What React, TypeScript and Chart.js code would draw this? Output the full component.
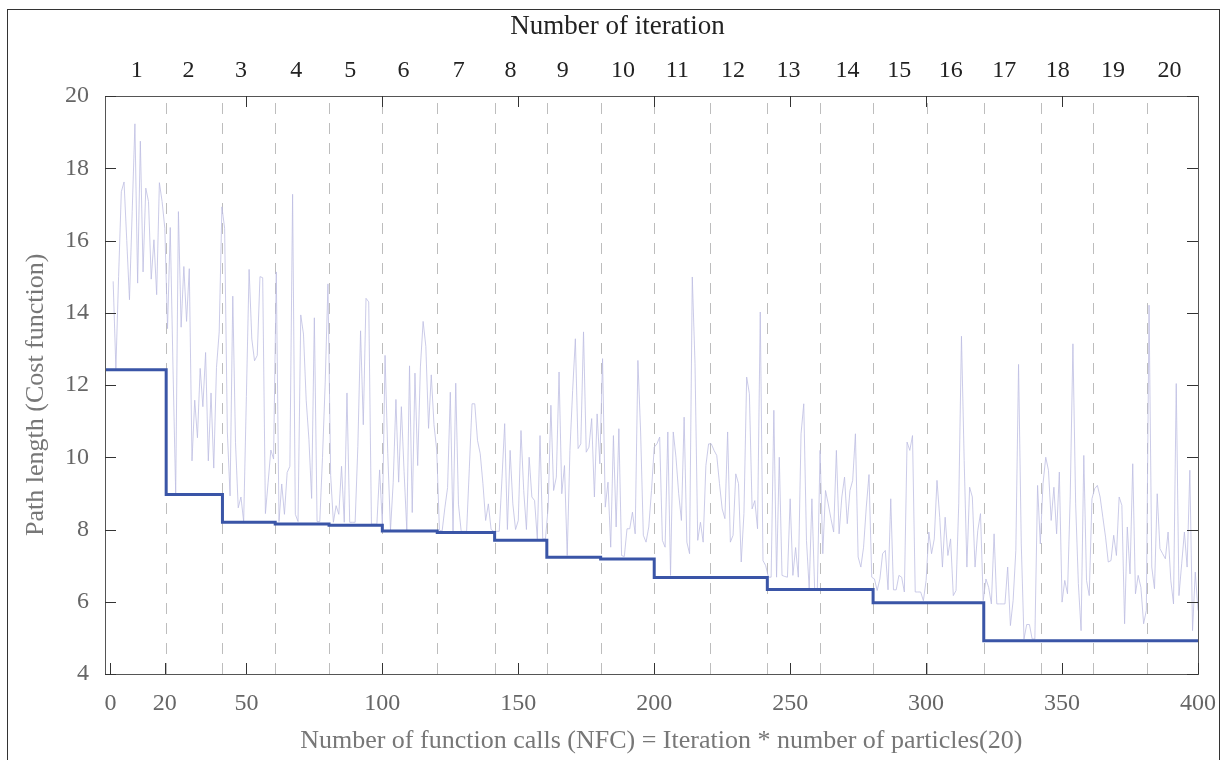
import React, { useEffect, useRef } from "react";
import { Chart, registerables } from "chart.js";

Chart.register(...registerables);

// Cost of every function call (particle evaluation), NFC = 1..400
const particleCost: number[] = [
  14.87, 12.45, 15.0, 17.35, 17.62, 16.0, 14.36, 16.8, 19.23, 14.82, 18.75, 15.13, 17.45, 17.08, 14.93, 16.02, 14.5, 17.6, 17.08, 16.34,
  13.56, 16.36, 12.5, 8.97, 16.8, 13.6, 15.28, 13.76, 15.22, 9.9, 11.58, 10.54, 12.46, 11.4, 12.9, 9.9, 11.78, 9.7, 12.48, 13.47,
  16.93, 16.34, 10.7, 8.93, 14.46, 10.4, 8.6, 8.9, 8.22, 11.68, 15.2, 13.27, 12.67, 12.82, 15.0, 14.97, 8.44, 9.31, 10.2, 9.95,
  15.13, 8.22, 9.26, 8.42, 9.58, 9.75, 17.28, 8.42, 8.22, 13.94, 13.41, 11.58, 10.5, 8.86, 13.86, 8.22, 8.22, 10.0, 12.08, 14.8,
  9.5, 8.2, 8.66, 8.42, 9.75, 8.2, 11.78, 8.2, 8.2, 8.2, 10.3, 13.5, 10.9, 14.4, 14.3, 8.15, 8.15, 8.15, 9.65, 8.15,
  12.82, 10.1, 7.98, 9.31, 11.6, 9.31, 11.4, 9.6, 7.98, 12.53, 8.47, 12.33, 9.77, 12.5, 13.76, 13.07, 10.8, 12.28, 10.9, 10.2,
  7.98, 7.96, 8.6, 9.16, 11.8, 7.96, 12.05, 8.7, 7.95, 7.95, 7.95, 9.7, 11.48, 11.48, 10.47, 10.1, 9.27, 8.25, 8.71, 8.0,
  7.95, 7.95, 7.95, 9.4, 10.93, 8.0, 10.19, 8.71, 8.0, 8.25, 10.74, 9.08, 8.0, 10.0, 8.9, 8.8, 7.74, 10.6, 7.74, 7.74,
  8.62, 11.44, 9.08, 9.45, 12.36, 8.99, 9.77, 7.28, 10.19, 11.85, 13.28, 10.24, 10.37, 13.47, 10.14, 10.28, 11.07, 8.9, 11.2, 9.82,
  12.73, 8.62, 9.31, 7.51, 10.6, 8.07, 10.79, 7.28, 7.25, 8.02, 8.02, 8.48, 7.88, 12.68, 10.7, 7.84, 7.65, 8.07, 9.08, 10.28,
  10.37, 10.56, 7.7, 7.51, 10.7, 6.73, 10.7, 10.0, 8.99, 8.25, 11.11, 7.65, 7.33, 14.99, 12.59, 7.7, 8.2, 7.65, 9.77, 10.37,
  10.37, 10.19, 10.05, 9.27, 8.57, 8.3, 10.7, 7.65, 7.84, 9.54, 9.27, 7.1, 8.44, 12.22, 11.76, 8.57, 8.8, 8.02, 14.02, 7.14,
  7.0, 6.68, 6.68, 11.3, 6.68, 10.0, 6.73, 6.7, 6.68, 8.85, 6.73, 7.5, 6.68, 10.65, 11.48, 7.7, 6.36, 8.85, 6.36, 6.36,
  10.19, 7.33, 9.08, 8.71, 8.3, 7.93, 10.19, 7.88, 8.9, 9.45, 8.16, 9.08, 9.36, 10.65, 7.24, 6.96, 7.51, 8.62, 9.52, 6.68,
  6.63, 6.31, 6.63, 7.33, 7.42, 6.33, 8.85, 6.33, 6.33, 6.73, 6.68, 6.27, 10.42, 10.19, 10.6, 6.27, 6.27, 6.27, 6.03, 6.59,
  7.93, 7.33, 7.74, 9.36, 8.34, 6.96, 8.34, 7.28, 7.74, 6.17, 6.31, 8.71, 13.35, 9.91, 6.96, 9.17, 8.9, 6.96, 7.97, 8.44,
  6.03, 6.63, 6.4, 5.94, 7.88, 5.94, 5.94, 5.94, 5.94, 6.96, 5.34, 6.03, 7.42, 12.57, 7.6, 4.97, 5.37, 5.37, 4.97, 4.97,
  9.22, 7.6, 9.27, 10.0, 9.64, 8.25, 9.17, 7.88, 9.59, 5.99, 6.59, 6.22, 8.9, 13.14, 8.71, 6.5, 5.2, 10.05, 6.59, 6.17,
  8.85, 9.13, 9.22, 8.9, 8.34, 7.79, 7.1, 7.14, 7.84, 7.28, 8.9, 8.67, 5.39, 8.07, 6.77, 9.82, 6.22, 6.73, 6.4, 5.39,
  5.76, 14.21, 6.96, 6.36, 8.99, 7.47, 7.33, 7.19, 7.93, 6.59, 5.94, 12.04, 6.17, 7.05, 7.93, 6.96, 9.64, 5.2, 6.82, 5.76,
];

// Best cost so far (step line): value holds from bestX[i] until bestX[i+1]
const bestX: number[] = [-2, 20.5, 41.2, 60.6, 80.4, 100, 120.2, 141.3, 160.5, 180.3, 200, 241.6, 280.5, 321.2, 400];
const bestCost: number[] = [12.42, 8.97, 8.2, 8.15, 8.12, 7.96, 7.92, 7.7, 7.23, 7.18, 6.67, 6.34, 5.97, 4.92, 4.92];

// Iteration boundaries (dashed lines)
const iterBoundaries: number[] = [20.5, 41.2, 60.6, 80.4, 100, 120.2, 141.3, 160.5, 180.3, 200, 220.6, 241.6, 260.9, 280.5, 300.3, 321.2, 342.1, 361.4, 381.2];

// Iteration labels along the top
const iterLabels: string[] = ["1", "2", "3", "4", "5", "6", "7", "8", "9", "10", "11", "12", "13", "14", "15", "16", "17", "18", "19", "20"];
const iterLabelX: number[] = [9.7, 28.7, 48.0, 68.3, 88.2, 107.8, 128.1, 147.1, 166.4, 188.5, 208.5, 229.0, 249.4, 271.1, 290.1, 309.1, 328.7, 348.4, 368.7, 389.5];
const topTitle = "Number of iteration";

// Axis ticks
const xTicksBottom: number[] = [0, 20, 50, 100, 150, 200, 250, 300, 350, 400];
const xTicksTop: number[] = [50, 100, 150, 200, 250, 300, 350];
const yTicks: number[] = [4, 6, 8, 10, 12, 14, 16, 18, 20];

const FONT = '"Liberation Serif", "DejaVu Serif", serif';

const decorPlugin = {
  id: "decor",
  beforeDatasetsDraw(chart: any) {
    const { ctx, chartArea: a, scales } = chart;
    const xs = scales.x;
    ctx.save();
    ctx.strokeStyle = "#bdbdbd";
    ctx.lineWidth = 1;
    ctx.setLineDash([11, 9]);
    iterBoundaries.forEach((b) => {
      const px = Math.round(xs.getPixelForValue(b)) + 0.5;
      ctx.beginPath();
      ctx.moveTo(px, a.bottom);
      ctx.lineTo(px, a.top);
      ctx.stroke();
    });
    ctx.restore();
  },
  afterDatasetsDraw(chart: any) {
    const { ctx, chartArea: a, scales } = chart;
    const xs = scales.x;
    const ys = scales.y;
    const L = 11;
    ctx.save();
    ctx.setLineDash([]);
    ctx.strokeStyle = "#555";
    ctx.lineWidth = 1;
    ctx.strokeRect(a.left + 0.5, a.top + 0.5, a.right - a.left, a.bottom - a.top);
    ctx.strokeStyle = "#333";
    ctx.beginPath();
    yTicks.forEach((v) => {
      const py = Math.round(ys.getPixelForValue(v)) + 0.5;
      ctx.moveTo(a.left, py);
      ctx.lineTo(a.left + L, py);
      ctx.moveTo(a.right, py);
      ctx.lineTo(a.right - L, py);
    });
    xTicksBottom.forEach((v) => {
      const px = Math.round(xs.getPixelForValue(v)) + 0.5;
      ctx.moveTo(px, a.bottom);
      ctx.lineTo(px, a.bottom - L);
    });
    xTicksTop.forEach((v) => {
      const px = Math.round(xs.getPixelForValue(v)) + 0.5;
      ctx.moveTo(px, a.top);
      ctx.lineTo(px, a.top + L);
    });
    ctx.stroke();

    // top title ("Number of iteration"), placed slightly left of centre as in the figure
    ctx.fillStyle = "#222";
    ctx.font = `27px ${FONT}`;
    ctx.textAlign = "center";
    ctx.textBaseline = "middle";
    ctx.fillText(topTitle, (a.left + a.right) / 2 - 34, 27);
    ctx.restore();
  },
};

export default function App() {
  const ref = useRef<HTMLCanvasElement | null>(null);

  useEffect(() => {
    if (!ref.current) return;
    const chart = new Chart(ref.current, {
      type: "line",
      data: {
        datasets: [
          {
            label: "Best",
            data: bestX.map((x, i) => ({ x, y: bestCost[i] })),
            borderColor: "#3a55a7",
            borderWidth: 3,
            stepped: true,
            pointRadius: 0,
            fill: false,
            order: 0,
          },
          {
            label: "Particles",
            data: particleCost.map((y, i) => ({ x: i + 1, y })),
            borderColor: "rgba(188,188,226,0.78)",
            borderWidth: 1,
            tension: 0,
            pointRadius: 0,
            fill: false,
            order: 1,
          },
        ],
      },
      options: {
        animation: false,
        responsive: false,
        maintainAspectRatio: false,
        devicePixelRatio: 1,
        layout: { padding: { left: 0, right: 26, top: 0, bottom: 0 } },
        plugins: { legend: { display: false }, tooltip: { enabled: false } },
        scales: {
          x: {
            type: "linear",
            position: "bottom",
            min: -2,
            max: 400,
            afterBuildTicks: (s: any) => {
              s.ticks = xTicksBottom.map((v) => ({ value: v }));
            },
            afterFit: (s: any) => {
              s.height = 86;
              s.paddingLeft = 0;
              s.paddingRight = 0;
            },
            grid: { display: false, drawTicks: false },
            border: { display: false },
            ticks: {
              autoSkip: false,
              maxRotation: 0,
              padding: 15,
              color: "#666",
              font: { family: FONT, size: 24 },
              callback: (v: any) => String(v),
            },
            title: {
              display: true,
              text: "   Number of function calls (NFC) = Iteration * number of particles(20)",
              color: "#777",
              font: { family: FONT, size: 26 },
              padding: { top: 0, bottom: 3 },
            },
          },
          xTop: {
            type: "linear",
            position: "top",
            min: -2,
            max: 400,
            afterBuildTicks: (s: any) => {
              s.ticks = iterLabelX.map((v) => ({ value: v }));
            },
            afterFit: (s: any) => {
              s.height = 96;
              s.paddingLeft = 0;
              s.paddingRight = 0;
            },
            grid: { display: false, drawTicks: false },
            border: { display: false },
            ticks: {
              autoSkip: false,
              maxRotation: 0,
              padding: 11,
              color: "#222",
              font: { family: FONT, size: 24 },
              callback: (_v: any, i: number) => iterLabels[i],
            },
            title: { display: false },
          },
          y: {
            type: "linear",
            position: "left",
            min: 4,
            max: 20,
            afterBuildTicks: (s: any) => {
              s.ticks = yTicks.map((v) => ({ value: v }));
            },
            afterFit: (s: any) => {
              s.width = 105;
            },
            grid: { display: false, drawTicks: false },
            border: { display: false },
            ticks: {
              padding: 16,
              color: "#666",
              font: { family: FONT, size: 24 },
            },
            title: {
              display: true,
              text: "Path length (Cost function)   ",
              color: "#777",
              font: { family: FONT, size: 26 },
              padding: { top: 21, bottom: 0 },
            },
          },
        },
      },
      plugins: [decorPlugin],
    } as any);
    return () => chart.destroy();
  }, []);

  return (
    <div
      style={{
        position: "absolute",
        left: 0,
        top: 0,
        width: 1224,
        height: 760,
        overflow: "hidden",
        background: "#fff",
      }}
    >
      <canvas
        ref={ref}
        width={1224}
        height={760}
        style={{ position: "absolute", left: 0, top: 0, width: 1224, height: 760 }}
      />
      <div
        style={{
          position: "absolute",
          left: 7,
          top: 9,
          width: 1213,
          height: 800,
          border: "1px solid #333",
          boxSizing: "border-box",
          pointerEvents: "none",
        }}
      />
    </div>
  );
}
